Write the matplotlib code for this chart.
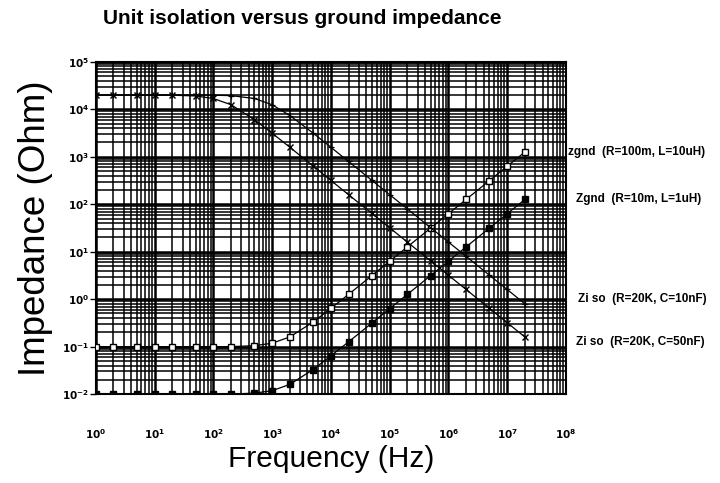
import numpy as np
import matplotlib
matplotlib.use("Agg")
import matplotlib.pyplot as plt
from matplotlib import ticker
import matplotlib.transforms as mtransforms

plt.rcParams['font.family'] = ['Liberation Sans', 'DejaVu Sans']

# frequencies of the plotted points (Hz), 1-2-5 steps
freq = [1, 2, 5, 10, 20, 50, 100, 200, 500, 1e3, 2e3, 5e3, 1e4, 2e4, 5e4,
        1e5, 2e5, 5e5, 1e6, 2e6, 5e6, 1e7, 2e7]

# impedances (Ohm)
zgnd_100m = [0.1, 0.1, 0.1, 0.1, 0.1, 0.1, 0.1, 0.1, 0.105, 0.118, 0.16, 0.33,
             0.64, 1.26, 3.15, 6.3, 12.6, 31.5, 63, 126, 315, 630, 1260]
zgnd_10m = [0.01, 0.01, 0.01, 0.01, 0.01, 0.01, 0.01, 0.01, 0.0105, 0.0118, 0.016, 0.033,
            0.064, 0.126, 0.315, 0.63, 1.26, 3.15, 6.3, 12.6, 31.5, 63, 126]
ziso_10n = [20000, 20000, 20000, 20000, 20000, 20000, 19800, 19400, 16900, 12500, 7400, 3150,
            1590, 795, 318, 159, 80, 32, 16, 8, 3.2, 1.6, 0.8]
ziso_50n = [20000, 20000, 20000, 20000, 19800, 19100, 16900, 12500, 6050, 3150, 1590, 640,
            318, 159, 64, 32, 16, 6.4, 3.2, 1.6, 0.64, 0.32, 0.16]

labels = ["zgnd  (R=100m, L=10uH)", "Zgnd  (R=10m, L=1uH)",
          "Zi so  (R=20K, C=10nF)", "Zi so  (R=20K, C=50nF)"]

fig = plt.figure(figsize=(7.2, 4.83), dpi=100)
ax = fig.add_axes([0.133, 0.184, 0.653, 0.688])

ax.plot(freq, zgnd_100m, color="black", lw=0.9, marker="s", ms=5,
        mfc="white", mec="black", mew=1.0, zorder=5)
ax.plot(freq, zgnd_10m, color="black", lw=0.9, marker="s", ms=5,
        mfc="black", mec="black", zorder=5)
ax.plot(freq, ziso_10n, color="black", lw=0.9, marker="+", ms=4, mew=0.9, zorder=5)
ax.plot(freq, ziso_50n, color="black", lw=0.9, marker="x", ms=5, mew=1.0, zorder=5)

ax.set_xscale("log")
ax.set_yscale("log")
ax.set_xlim(1, 1e8)
ax.set_ylim(1e-2, 1e5)

# dense log-paper grid
ax.xaxis.set_major_locator(ticker.LogLocator(base=10, numticks=20))
ax.yaxis.set_major_locator(ticker.LogLocator(base=10, numticks=20))
ax.xaxis.set_minor_locator(ticker.LogLocator(base=10, subs=np.arange(2, 10), numticks=20))
ax.yaxis.set_minor_locator(ticker.LogLocator(base=10, subs=np.arange(2, 10), numticks=20))
ax.xaxis.set_minor_formatter(ticker.NullFormatter())
ax.yaxis.set_minor_formatter(ticker.NullFormatter())
ax.grid(which="major", color="black", lw=1.8)
ax.grid(which="minor", color="black", lw=1.1)
ax.set_axisbelow(True)

fmt = ticker.FuncFormatter(lambda v, p: r"$\mathbf{10^{%d}}$" % round(np.log10(v)))
ax.xaxis.set_major_formatter(fmt)
ax.yaxis.set_major_formatter(fmt)
ax.tick_params(axis="x", which="both", length=0, pad=24, labelsize=7.5)
ax.tick_params(axis="y", which="major", length=4, width=1, pad=1, labelsize=7.5)
ax.tick_params(axis="y", which="minor", length=0)
for s in ax.spines.values():
    s.set_linewidth(1.5)

ax.set_title("Unit isolation versus ground impedance", fontsize=15,
             fontweight="bold", pad=27, x=0.44)
ax.set_xlabel("Frequency (Hz)", fontsize=21.5, labelpad=3)
ax.set_ylabel("Impedance (Ohm)", fontsize=26.5, labelpad=6)

# curve names to the right of the plot, level with the curve ends
trans = mtransforms.blended_transform_factory(ax.transAxes, ax.transData)
ends = [zgnd_100m[-1], zgnd_10m[-1], ziso_10n[-1] * 1.25, ziso_50n[-1] * 0.8]
xs = [1.004, 1.021, 1.026, 1.021]
for lab, yv, xv in zip(labels, ends, xs):
    ax.text(xv, yv, lab, transform=trans, fontsize=8.5, fontweight="bold",
            va="center", ha="left", clip_on=False)

fig.savefig("out.png", dpi=100)
